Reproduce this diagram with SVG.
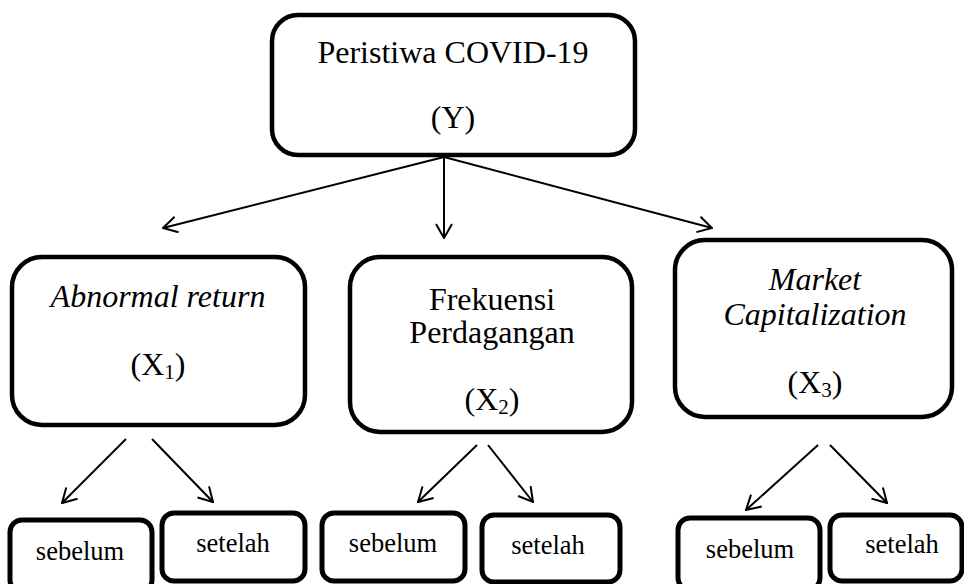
<svg xmlns="http://www.w3.org/2000/svg" width="964" height="584" viewBox="0 0 964 584">
<style>
.box{fill:#fff;stroke:#000;stroke-width:4.5}
.sm{fill:#fff;stroke:#000;stroke-width:5}
text{font-family:"Liberation Serif","Times New Roman","DejaVu Serif",serif;fill:#000;text-anchor:middle}
.t{font-size:32px}
.i{font-style:italic}
.s{font-size:26.5px}
.sub{font-size:21px}
.c{stroke:#000;stroke-width:2;fill:none}
</style>
<defs>
<marker id="ah" viewBox="0 0 16 18" refX="15" refY="9" markerWidth="16" markerHeight="18" markerUnits="userSpaceOnUse" orient="auto">
<path d="M1,1 L15,9 L1,17" fill="none" stroke="#000" stroke-width="2"/>
</marker>
</defs>
<g id="connectors">
<line class="c" x1="444" y1="157" x2="163" y2="228" marker-end="url(#ah)"/>
<line class="c" x1="444" y1="157" x2="444" y2="238" marker-end="url(#ah)"/>
<line class="c" x1="444" y1="157" x2="712" y2="228" marker-end="url(#ah)"/>
<line class="c" x1="126" y1="439" x2="62" y2="503" marker-end="url(#ah)"/>
<line class="c" x1="152" y1="439" x2="213" y2="502" marker-end="url(#ah)"/>
<line class="c" x1="477" y1="445" x2="418" y2="502" marker-end="url(#ah)"/>
<line class="c" x1="488" y1="445" x2="533" y2="502" marker-end="url(#ah)"/>
<line class="c" x1="818" y1="445" x2="746" y2="510" marker-end="url(#ah)"/>
<line class="c" x1="830" y1="445" x2="887" y2="503" marker-end="url(#ah)"/>
</g>
<g id="node-y">
<rect class="box" x="272" y="15" width="363" height="140" rx="26"/>
<text class="t" x="453" y="63">Peristiwa COVID-19</text>
<text class="t" x="453" y="128">(Y)</text>
</g>
<g id="node-x1">
<rect class="box" x="12" y="257" width="293" height="168" rx="30"/>
<text class="t i" x="158" y="307">Abnormal return</text>
<text class="t" x="158" y="375">(X<tspan class="sub" dy="4">1</tspan><tspan dy="-4">)</tspan></text>
</g>
<g id="node-x2">
<rect class="box" x="350" y="257" width="282" height="175" rx="30"/>
<text class="t" x="492" y="310">Frekuensi</text>
<text class="t" x="492" y="343">Perdagangan</text>
<text class="t" x="492" y="410">(X<tspan class="sub" dy="4">2</tspan><tspan dy="-4">)</tspan></text>
</g>
<g id="node-x3">
<rect class="box" x="675" y="240" width="277" height="177" rx="30"/>
<text class="t i" x="815" y="290">Market</text>
<text class="t i" x="815" y="325">Capitalization</text>
<text class="t" x="815" y="393">(X<tspan class="sub" dy="4">3</tspan><tspan dy="-4">)</tspan></text>
</g>
<g id="x1-sebelum">
<rect class="sm" x="10" y="520" width="142" height="72" rx="12"/>
<text class="s" x="80" y="560">sebelum</text>
</g>
<g id="x1-setelah">
<rect class="sm" x="162" y="513" width="143" height="68" rx="12"/>
<text class="s" x="233" y="552">setelah</text>
</g>
<g id="x2-sebelum">
<rect class="sm" x="322" y="513" width="143" height="68" rx="12"/>
<text class="s" x="393" y="552">sebelum</text>
</g>
<g id="x2-setelah">
<rect class="sm" x="482" y="515" width="138" height="67" rx="12"/>
<text class="s" x="548" y="554">setelah</text>
</g>
<g id="x3-sebelum">
<rect class="sm" x="678" y="518" width="142" height="72" rx="12"/>
<text class="s" x="750" y="558">sebelum</text>
</g>
<g id="x3-setelah">
<rect class="sm" x="830" y="515" width="132" height="66" rx="12"/>
<text class="s" x="902" y="553">setelah</text>
</g>
</svg>
